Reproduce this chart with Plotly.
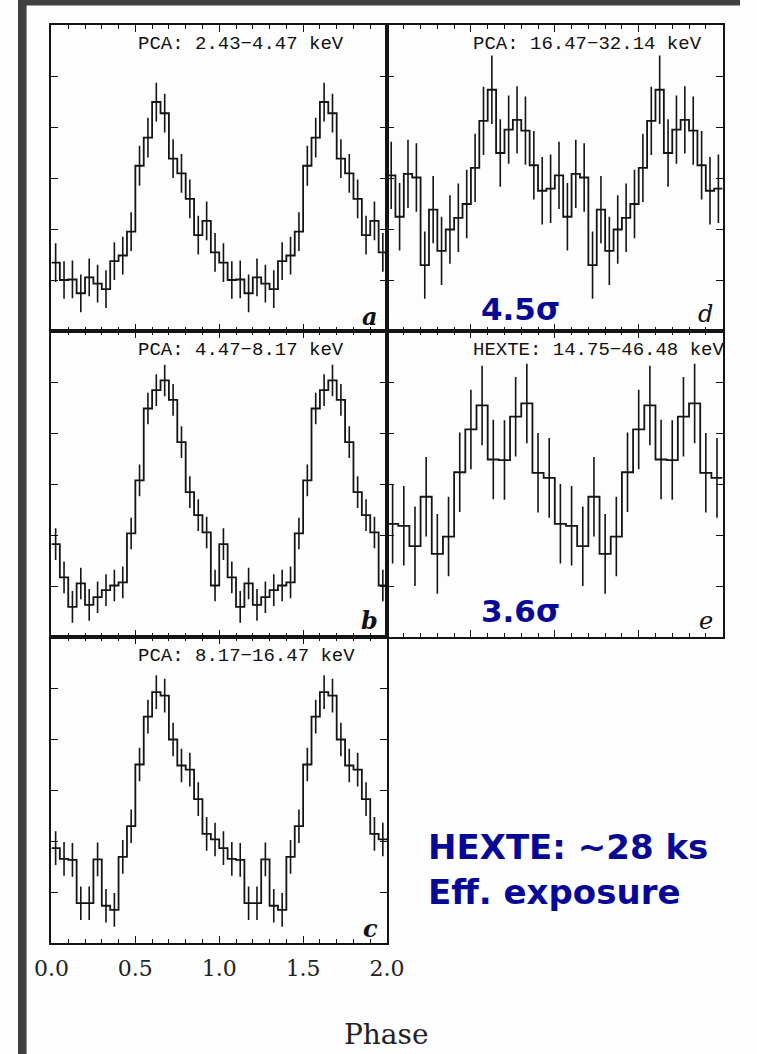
import plotly.graph_objects as go

W, H = 757, 1054

# ---------------- data (one pulse cycle; profiles are shown twice, phase 0-2) ----------------
# PCA: 2.43-4.47 keV (20 bins per cycle)
rate_a = [1.34, 1.00, 1.01, 0.74, 1.05, 0.93, 0.82, 1.37, 1.48, 1.95,
          3.24, 3.79, 4.49, 4.27, 3.38, 3.09, 2.59, 1.88, 2.16, 1.54]
err_a = [0.38, 0.37, 0.37, 0.37, 0.37, 0.37, 0.37, 0.37, 0.37, 0.38,
         0.39, 0.39, 0.38, 0.38, 0.38, 0.38, 0.38, 0.38, 0.38, 0.38]
# PCA: 4.47-8.17 keV
rate_b = [1.82, 1.17, 0.59, 1.05, 0.63, 0.78, 0.92, 1.01, 1.07, 2.03,
          3.07, 4.48, 4.84, 5.03, 4.65, 3.82, 2.84, 2.39, 2.05, 1.01]
err_b = [0.31] * 20
# PCA: 8.17-16.47 keV
rate_c = [1.86, 1.65, 1.63, 0.78, 0.78, 1.64, 0.73, 0.65, 1.69, 2.29,
          3.50, 4.44, 4.92, 4.85, 3.99, 3.48, 3.40, 2.82, 2.14, 2.03]
err_c = [0.33] * 20
# PCA: 16.47-32.14 keV
rate_d = [3.05, 2.24, 3.08, 3.01, 1.29, 2.38, 1.57, 1.99, 2.22, 2.49,
          3.20, 4.12, 4.73, 3.49, 3.95, 4.14, 3.93, 3.25, 2.75, 2.79]
err_d = [0.66, 0.66, 0.67, 0.67, 0.66, 0.66, 0.67, 0.67, 0.67, 0.67,
         0.67, 0.67, 0.67, 0.66, 0.67, 0.66, 0.67, 0.67, 0.66, 0.67]
# HEXTE: 14.75-46.48 keV (15 bins per cycle)
rate_e = [2.22, 2.18, 1.78, 2.75, 1.63, 1.97, 3.23, 4.07, 4.54, 3.48,
          3.47, 4.32, 4.58, 3.22, 3.12]
err_e = [0.78] * 15

titles = ["PCA: 2.43\u22124.47 keV", "PCA: 4.47\u22128.17 keV", "PCA: 8.17\u221216.47 keV",
          "PCA: 16.47\u221232.14 keV", "HEXTE: 14.75\u221246.48 keV"]
letters = ["a", "b", "c", "d", "e"]
phase_ticks = [0.0, 0.5, 1.0, 1.5, 2.0]
phase_labels = ["0.0", "0.5", "1.0", "1.5", "2.0"]
sigma_labels = {"d": "4.5\u03c3", "e": "3.6\u03c3"}
note_lines = ["HEXTE: ~28 ks", "Eff. exposure"]

# ---------------- layout helpers ----------------
# horizontal placement is corrected for the observed screenshot mapping
OFF, SC = 17.0, 0.955

def fx(px):
    return ((px - OFF) / SC) / W

def fy(py):
    return 1 - py / H

col_L = [fx(50.5), fx(386.5)]
col_R = [fx(386.5), fx(722.5)]
row1 = [fy(331), fy(25)]
row2 = [fy(637), fy(331)]
row3 = [fy(943), fy(637)]

panels = [
    (rate_a, err_a, col_L, row1, 135, 44, (379, 316), True),
    (rate_b, err_b, col_L, row2, 135, 350, (379, 620), True),
    (rate_c, err_c, col_L, row3, 135, 656, (379, 928), True),
    (rate_d, err_d, col_R, row1, 471, 44, (715, 314), False),
    (rate_e, err_e, col_R, row2, 471, 350, (715, 621), False),
]

BLK = "#141414"
BLUE = "rgb(8,8,150)"

fig = go.Figure()
annotations = []
layout_axes = {}

for i, (rates, errs, xd, yd, tx, ty, lpos, lbold) in enumerate(panels):
    n = i + 1
    xa = "x" if n == 1 else f"x{n}"
    ya = "y" if n == 1 else f"y{n}"
    vals = list(rates) + list(rates)          # two cycles
    ers = list(errs) + list(errs)
    nb = len(vals)
    w = 2.0 / nb
    edges = [k * w for k in range(nb + 1)]
    centers = [(k + 0.5) * w for k in range(nb)]

    fig.add_trace(go.Scatter(
        x=edges, y=vals + [vals[-1]], mode="lines", line=dict(color=BLK, width=1.8, shape="hv"),
        xaxis=xa, yaxis=ya, showlegend=False, hoverinfo="skip"))

    ex, ey = [], []
    for c, v, e in zip(centers, vals, ers):
        ex += [c, c, None]
        ey += [v - e, v + e, None]
    fig.add_trace(go.Scatter(
        x=ex, y=ey, mode="lines", line=dict(color=BLK, width=1.6),
        xaxis=xa, yaxis=ya, showlegend=False, hoverinfo="skip"))

    xkey = "xaxis" if n == 1 else f"xaxis{n}"
    ykey = "yaxis" if n == 1 else f"yaxis{n}"
    show_lab = (n == 3)
    layout_axes[xkey] = dict(
        domain=xd, anchor=ya, range=[0, 2], showgrid=False, zeroline=False,
        showline=True, linecolor=BLK, linewidth=1.5, mirror="ticks",
        ticks="inside", tickvals=phase_ticks, ticktext=phase_labels, ticklen=7,
        tickwidth=1.3, tickcolor=BLK,
        minor=dict(ticks="inside", dtick=0.1, tick0=0, ticklen=4, tickwidth=1, tickcolor=BLK, showgrid=False),
        showticklabels=show_lab,
        tickfont=dict(family="DejaVu Serif", size=22, color="#222222"),
        ticklabelstandoff=5,
    )
    layout_axes[ykey] = dict(
        domain=yd, anchor=xa, range=[0, 6], showgrid=False, zeroline=False,
        showline=True, linecolor=BLK, linewidth=1.5, mirror="ticks",
        ticks="inside", tickvals=[1, 2, 3, 4, 5], ticklen=7, tickwidth=1.3, tickcolor=BLK,
        showticklabels=False,
    )

    annotations.append(dict(
        x=fx(tx), y=fy(ty), xref="paper", yref="paper", xanchor="left", yanchor="middle",
        text=titles[i], showarrow=False,
        font=dict(family="Liberation Mono", size=19, color="#111111")))
    lt = f"<i>{letters[i]}</i>"
    if lbold:
        lt = f"<b>{lt}</b>"
    annotations.append(dict(
        x=fx(lpos[0]), y=fy(lpos[1]), xref="paper", yref="paper", xanchor="right", yanchor="middle",
        text=lt, showarrow=False,
        font=dict(family="DejaVu Serif", size=24, color="#111111")))

annotations.append(dict(x=fx(520), y=fy(309), xref="paper", yref="paper", xanchor="center",
                        yanchor="middle", text=sigma_labels["d"], showarrow=False,
                        font=dict(family="DejaVu Sans", size=31, color=BLUE, weight="bold")))
annotations.append(dict(x=fx(520), y=fy(611), xref="paper", yref="paper", xanchor="center",
                        yanchor="middle", text=sigma_labels["e"], showarrow=False,
                        font=dict(family="DejaVu Sans", size=31, color=BLUE, weight="bold")))
annotations.append(dict(x=fx(426), y=fy(847), xref="paper", yref="paper", xanchor="left",
                        yanchor="middle", text=note_lines[0], showarrow=False,
                        font=dict(family="DejaVu Sans", size=34, color=BLUE, weight="bold")))
annotations.append(dict(x=fx(426), y=fy(892), xref="paper", yref="paper", xanchor="left",
                        yanchor="middle", text=note_lines[1], showarrow=False,
                        font=dict(family="DejaVu Sans", size=34, color=BLUE, weight="bold")))
annotations.append(dict(x=fx(386), y=fy(1034), xref="paper", yref="paper", xanchor="center",
                        yanchor="middle", text="Phase", showarrow=False,
                        font=dict(family="DejaVu Serif", size=28, color="#222222")))

shapes = [
    dict(type="rect", xref="paper", yref="paper", x0=0, x1=9 / W, y0=0, y1=1,
         fillcolor="#404040", line=dict(width=0), layer="above"),
    dict(type="rect", xref="paper", yref="paper", x0=0, x1=1, y0=fy(5.5), y1=1,
         fillcolor="#404040", line=dict(width=0), layer="above"),
]

fig.update_layout(
    width=W, height=H, autosize=False,
    margin=dict(l=0, r=0, t=0, b=0, pad=0),
    paper_bgcolor="#fdfdfd", plot_bgcolor="#fdfdfd",
    annotations=annotations, shapes=shapes, showlegend=False,
    **layout_axes,
)

fig.write_html("out.html")
